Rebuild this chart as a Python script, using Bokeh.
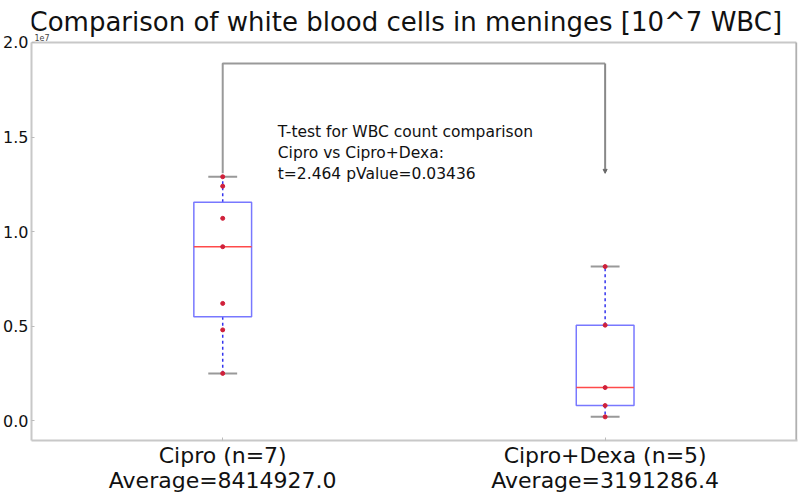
import numpy as np
from bokeh.plotting import figure
from bokeh.models import Range1d, FixedTicker, Label, Arrow, NormalHead
from bokeh.embed import file_html
from bokeh.resources import INLINE

# ---- data (values in units of 1e7 WBC) ----
groups = ["Cipro", "Cipro+Dexa"]
cipro_vals = [1.29, 1.24, 1.07, 0.92, 0.62, 0.48, 0.25]
dexa_vals = [0.815, 0.505, 0.175, 0.08, 0.02]
averages = [8414927.0, 3191286.4]
t_stat = 2.464
p_value = 0.03436
y_ticks = [0.0, 0.5, 1.0, 1.5, 2.0]
title_text = "Comparison of white blood cells in meninges [10^7 WBC]"

series = [cipro_vals, dexa_vals]
positions = [1, 2]
FONT = "DejaVu Sans"

# axes box limits (matplotlib-style) and extra headroom used for the title
X_LO, X_HI = 0.5, 2.5
Y_LO, Y_HI = -0.105, 2.0
FRAME_GREY = "#c8c8c8"

p = figure(width=798, height=495, output_backend="svg", toolbar_location=None,
           x_range=Range1d(X_LO, X_HI + 0.003), y_range=Range1d(Y_LO, 2.2221),
           min_border_left=30, min_border_right=1, min_border_top=0, min_border_bottom=55)

p.xgrid.visible = False
p.ygrid.visible = False
p.outline_line_color = None
p.background_fill_color = "white"
p.border_fill_color = "white"

# axes
p.yaxis.ticker = FixedTicker(ticks=y_ticks)
p.yaxis.major_label_overrides = {t: f"{t:.1f}" for t in y_ticks}
p.yaxis.bounds = (Y_LO, Y_HI)
p.xaxis.ticker = FixedTicker(ticks=positions)
p.xaxis.major_label_overrides = {
    pos: f"{g} (n={len(v)})\nAverage={a}" for pos, g, v, a in zip(positions, groups, series, averages)
}
for ax in (p.xaxis[0], p.yaxis[0]):
    ax.axis_line_color = FRAME_GREY
    ax.axis_line_width = 2
    ax.major_tick_in = 3
    ax.major_tick_out = 0
    ax.major_tick_line_color = "#bbbbbb"
    ax.minor_tick_line_color = None
    ax.major_label_text_font = FONT
    ax.major_label_text_color = "#111111"
p.yaxis.major_label_text_font_size = "16px"
p.yaxis.major_label_standoff = 3
p.xaxis.major_label_text_font_size = "22px"
p.xaxis.major_label_text_line_height = 1.0
p.xaxis.major_label_standoff = 2

# top and right edges of the axes box
p.segment(x0=[X_LO, X_HI], y0=[Y_HI, Y_LO], x1=[X_HI, X_HI], y1=[Y_HI, Y_HI],
          line_color=[FRAME_GREY, "#b0b0b0"], line_width=2)

# title and offset text
p.add_layout(Label(x=X_LO, y=Y_HI, text=title_text, text_font=FONT, text_font_size="26px",
                   text_color="#111111", x_offset=-2, y_offset=20, text_baseline="alphabetic"))
p.add_layout(Label(x=X_LO, y=Y_HI, text="1e7", text_font=FONT, text_font_size="8px",
                   text_color="#444444", x_offset=3, y_offset=1, text_baseline="bottom"))

half_w = 0.0755
cap_w = half_w / 2
for pos, vals in zip(positions, series):
    v = np.array(vals)
    q1, med, q3 = np.percentile(v, [25, 50, 75])
    iqr = q3 - q1
    lo = v[v >= q1 - 1.5 * iqr].min()
    hi = v[v <= q3 + 1.5 * iqr].max()
    # whiskers
    p.segment(x0=[pos, pos], y0=[q3, q1], x1=[pos, pos], y1=[hi, lo],
              line_color="#3333ee", line_width=1.5, line_dash="3 3")
    # caps
    p.segment(x0=[pos - cap_w, pos - cap_w], y0=[hi, lo], x1=[pos + cap_w, pos + cap_w], y1=[hi, lo],
              line_color="#999999", line_width=2)
    # box
    p.quad(left=pos - half_w, right=pos + half_w, bottom=q1, top=q3,
           fill_color=None, line_color="#7878ff", line_width=1.5)
    # median
    p.segment(x0=pos - half_w, y0=med, x1=pos + half_w, y1=med,
              line_color="#ff4a4a", line_width=1.5)
    # points
    p.scatter(x=[pos] * len(vals), y=vals, size=4, marker="circle",
              fill_color="#d0203a", line_color="#d0203a")

# significance bracket
top_y = 1.889
bot_y = max(cipro_vals) + 0.018
p.line(x=[positions[0], positions[0], positions[1]], y=[bot_y, top_y, top_y],
       line_color="#999999", line_width=2)
p.add_layout(Arrow(x_start=positions[1], y_start=top_y, x_end=positions[1], y_end=bot_y,
                   line_color="#888888", line_width=2,
                   end=NormalHead(size=4, fill_color="#666666", line_color="#666666")))

p.add_layout(Label(x=1.144, y=1.573,
                   text=f"T-test for WBC count comparison\n{groups[0]} vs {groups[1]}:\n t={t_stat} pValue={p_value}",
                   text_font=FONT, text_font_size="15.5px", text_color="#111111",
                   text_baseline="top", text_line_height=1.15))

open("out.html", "w").write(file_html(p, INLINE))
